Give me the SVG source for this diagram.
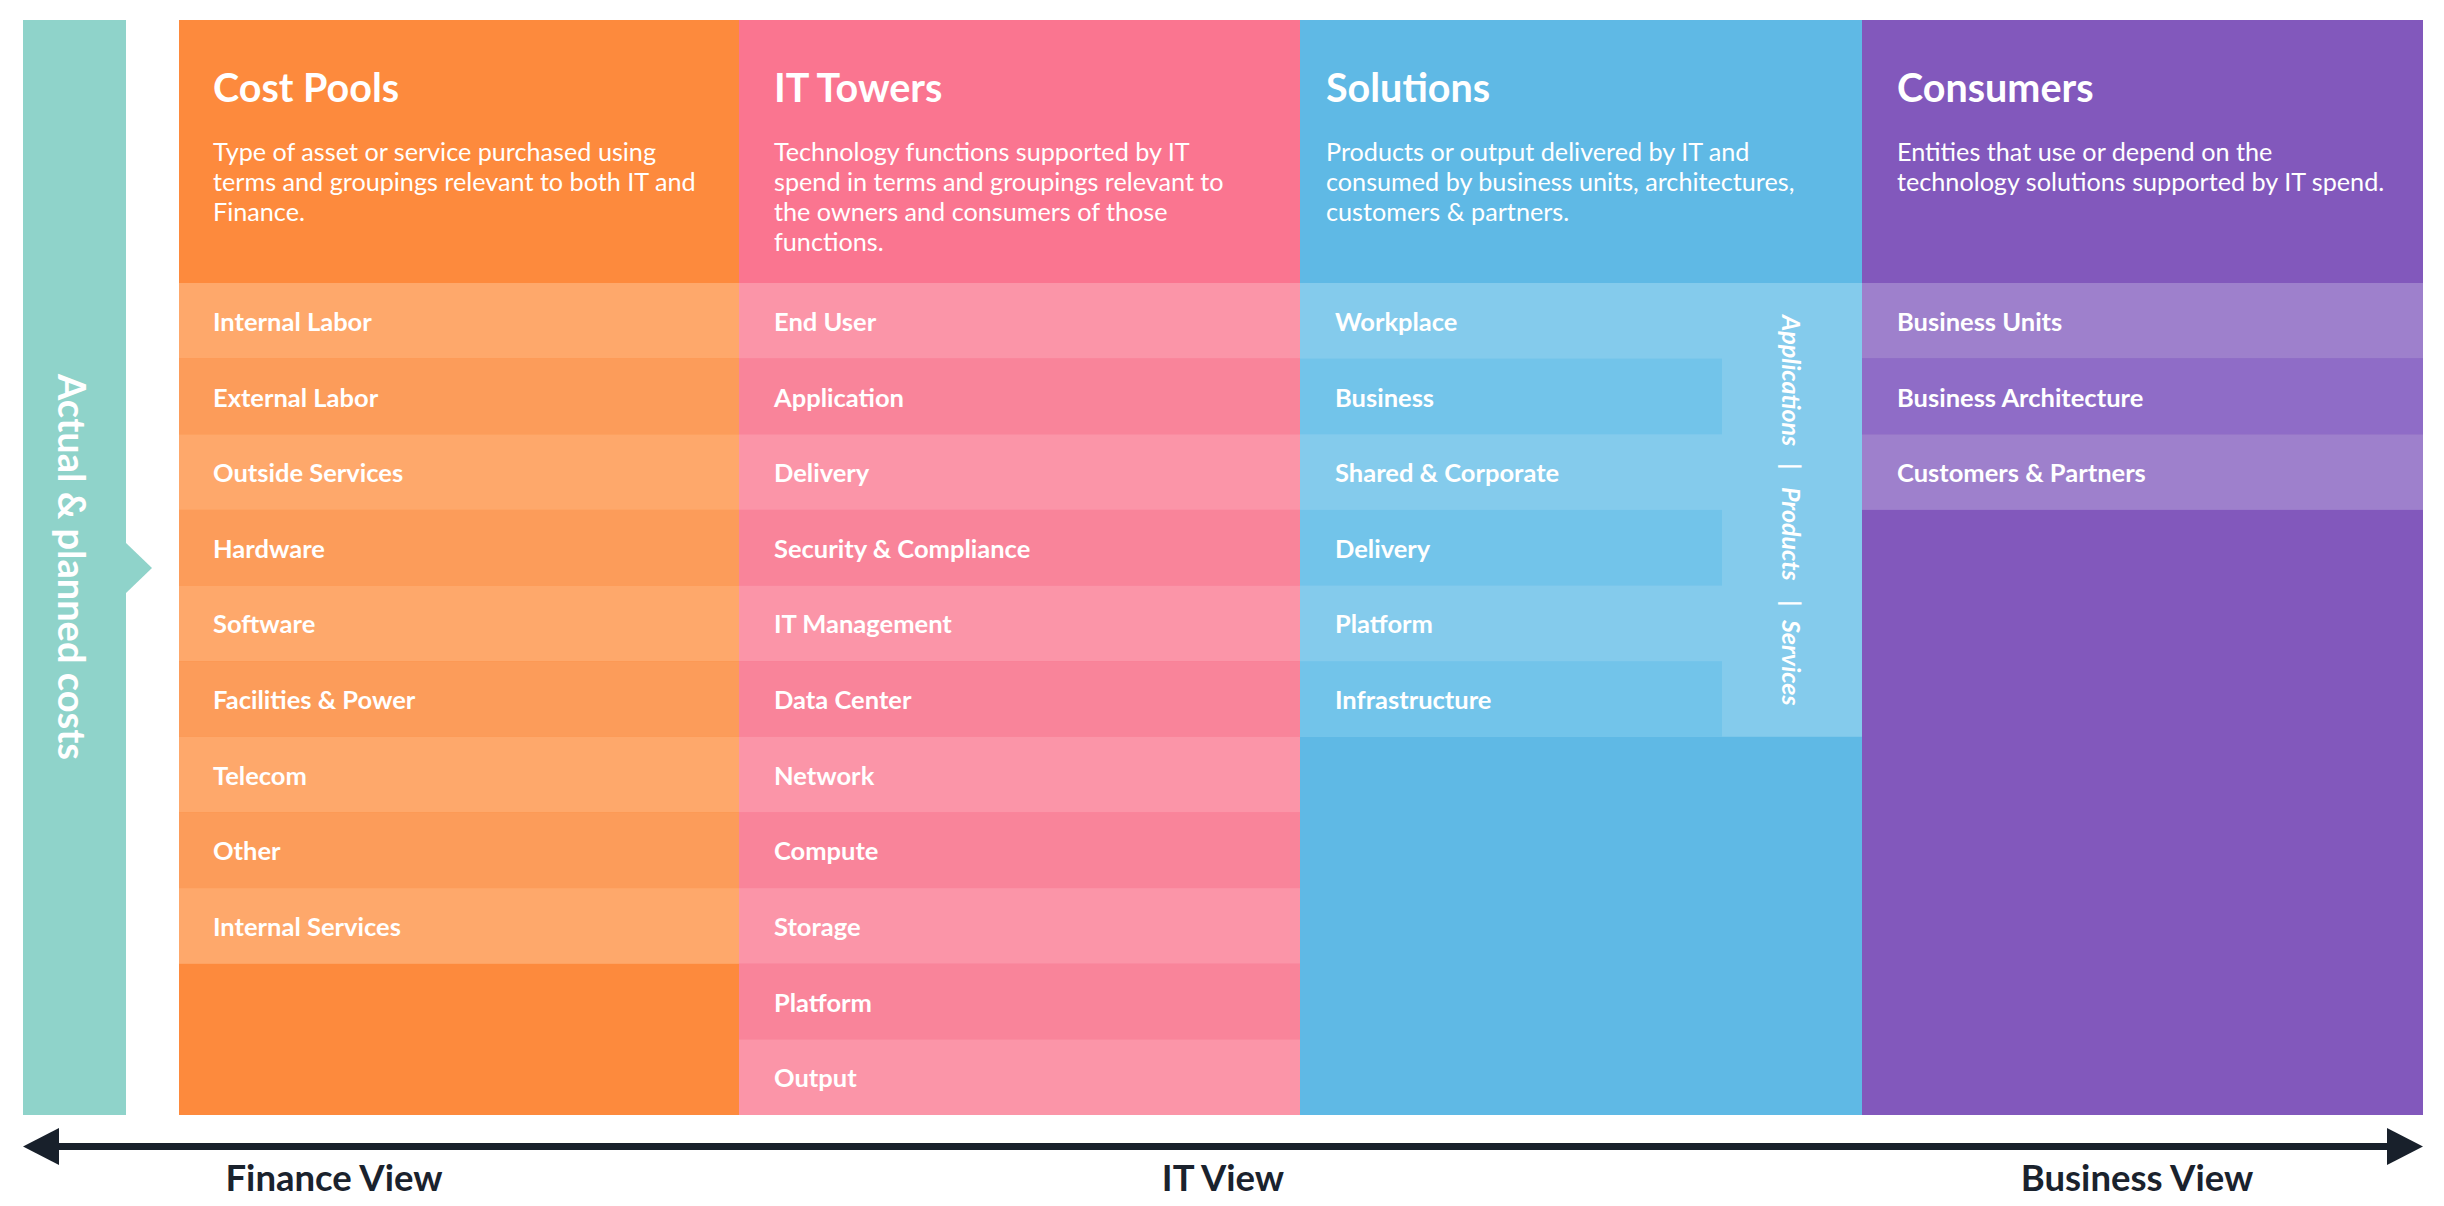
<svg xmlns="http://www.w3.org/2000/svg" width="2444" height="1206" viewBox="0 0 2444 1206">
<defs>
<style>
text{font-family:Lato,"Open Sans","Liberation Sans",sans-serif;fill:#ffffff}
.h{font-size:39.5px;font-weight:700}
.d{font-size:25.2px;font-weight:400}
.r{font-size:25.5px;font-weight:700}
.side{font-size:38px;font-weight:700}
.vt{font-size:25px;font-weight:700;font-style:italic}
.v{font-size:36.5px;font-weight:700;fill:#1a222d;text-anchor:middle}
.o0{fill:#fd8a3d}.o1{fill:#fea86b}.o2{fill:#fc9c5a}
.p0{fill:#fa7590}.p1{fill:#fb95a8}.p2{fill:#f9849a}
.b0{fill:#5fb9e5}.b1{fill:#84cbec}.b2{fill:#72c4ea}
.u0{fill:#8258bc}.u1{fill:#9e80cc}.u2{fill:#8f6cc7}
</style>
</defs>

<g id="side">
<rect x="23" y="20" width="103" height="1095" fill="#8fd3ca"/>
<polygon points="126,543 152,568 126,593" fill="#8fd3ca"/>
<text class="side" transform="translate(58,567) rotate(90)" text-anchor="middle">Actual &amp; planned costs</text>
</g>

<g id="cost-pools">
<rect class="o0" x="179" y="20" width="561" height="1095"/>
<text class="h" x="213" y="102">Cost Pools</text>
<text class="d" x="213" y="161">Type of asset or service purchased using</text>
<text class="d" x="213" y="191">terms and groupings relevant to both IT and</text>
<text class="d" x="213" y="221">Finance.</text>
<g id="cp-rows">
<rect class="o1" x="179" y="283" width="561" height="75.6"/>
<rect class="o2" x="179" y="358.6" width="561" height="75.7"/>
<rect class="o1" x="179" y="434.3" width="561" height="75.6"/>
<rect class="o2" x="179" y="509.9" width="561" height="75.7"/>
<rect class="o1" x="179" y="585.6" width="561" height="75.6"/>
<rect class="o2" x="179" y="661.2" width="561" height="75.6"/>
<rect class="o1" x="179" y="736.8" width="561" height="75.7"/>
<rect class="o2" x="179" y="812.5" width="561" height="75.6"/>
<rect class="o1" x="179" y="888.1" width="561" height="75.7"/>
<text class="r" x="213" y="331">Internal Labor</text>
<text class="r" x="213" y="407">External Labor</text>
<text class="r" x="213" y="482">Outside Services</text>
<text class="r" x="213" y="558">Hardware</text>
<text class="r" x="213" y="633">Software</text>
<text class="r" x="213" y="709">Facilities &amp; Power</text>
<text class="r" x="213" y="785">Telecom</text>
<text class="r" x="213" y="860">Other</text>
<text class="r" x="213" y="936">Internal Services</text>
</g>
</g>

<g id="it-towers">
<rect class="p0" x="739" y="20" width="562" height="1095"/>
<text class="h" x="774" y="102">IT Towers</text>
<text class="d" x="774" y="161">Technology functions supported by IT</text>
<text class="d" x="774" y="191">spend in terms and groupings relevant to</text>
<text class="d" x="774" y="221">the owners and consumers of those</text>
<text class="d" x="774" y="251">functions.</text>
<g id="it-rows">
<rect class="p1" x="739" y="283" width="562" height="75.6"/>
<rect class="p2" x="739" y="358.6" width="562" height="75.7"/>
<rect class="p1" x="739" y="434.3" width="562" height="75.6"/>
<rect class="p2" x="739" y="509.9" width="562" height="75.7"/>
<rect class="p1" x="739" y="585.6" width="562" height="75.6"/>
<rect class="p2" x="739" y="661.2" width="562" height="75.6"/>
<rect class="p1" x="739" y="736.8" width="562" height="75.7"/>
<rect class="p2" x="739" y="812.5" width="562" height="75.6"/>
<rect class="p1" x="739" y="888.1" width="562" height="75.7"/>
<rect class="p2" x="739" y="963.8" width="562" height="75.6"/>
<rect class="p1" x="739" y="1039.4" width="562" height="75.6"/>
<text class="r" x="774" y="331">End User</text>
<text class="r" x="774" y="407">Application</text>
<text class="r" x="774" y="482">Delivery</text>
<text class="r" x="774" y="558">Security &amp; Compliance</text>
<text class="r" x="774" y="633">IT Management</text>
<text class="r" x="774" y="709">Data Center</text>
<text class="r" x="774" y="785">Network</text>
<text class="r" x="774" y="860">Compute</text>
<text class="r" x="774" y="936">Storage</text>
<text class="r" x="774" y="1012">Platform</text>
<text class="r" x="774" y="1087">Output</text>
</g>
</g>

<g id="solutions">
<rect class="b0" x="1300" y="20" width="562" height="1095"/>
<text class="h" x="1326" y="102">Solutions</text>
<text class="d" x="1326" y="161">Products or output delivered by IT and</text>
<text class="d" x="1326" y="191">consumed by business units, architectures,</text>
<text class="d" x="1326" y="221">customers &amp; partners.</text>
<g id="sol-rows">
<rect class="b1" x="1300" y="283" width="562" height="453.8"/>
<rect class="b2" x="1300" y="358.6" width="422" height="75.7"/>
<rect class="b2" x="1300" y="509.9" width="422" height="75.7"/>
<rect class="b2" x="1300" y="661.2" width="422" height="75.6"/>
<text class="r" x="1335" y="331">Workplace</text>
<text class="r" x="1335" y="407">Business</text>
<text class="r" x="1335" y="482">Shared &amp; Corporate</text>
<text class="r" x="1335" y="558">Delivery</text>
<text class="r" x="1335" y="633">Platform</text>
<text class="r" x="1335" y="709">Infrastructure</text>
</g>
<text class="vt" transform="translate(1782,315) rotate(90)"><tspan x="0">Applications</tspan><tspan x="148">|</tspan><tspan x="172">Products</tspan><tspan x="285">|</tspan><tspan x="305">Services</tspan></text>
</g>

<g id="consumers">
<rect class="u0" x="1862" y="20" width="561" height="1095"/>
<text class="h" x="1897" y="102">Consumers</text>
<text class="d" x="1897" y="161">Entities that use or depend on the</text>
<text class="d" x="1897" y="191">technology solutions supported by IT spend.</text>
<g id="con-rows">
<rect class="u1" x="1862" y="283" width="561" height="75.6"/>
<rect class="u2" x="1862" y="358.6" width="561" height="75.7"/>
<rect class="u1" x="1862" y="434.3" width="561" height="75.6"/>
<text class="r" x="1897" y="331">Business Units</text>
<text class="r" x="1897" y="407">Business Architecture</text>
<text class="r" x="1897" y="482">Customers &amp; Partners</text>
</g>
</g>

<g id="connectors">
<line x1="59" y1="1146.5" x2="2387" y2="1146.5" stroke="#18202b" stroke-width="7"/>
<polygon points="23,1146.5 59,1128 59,1165" fill="#18202b"/>
<polygon points="2423,1146.5 2387,1128 2387,1165" fill="#18202b"/>
</g>

<g id="views">
<text class="v" x="334" y="1191">Finance View</text>
<text class="v" x="1223" y="1191">IT View</text>
<text class="v" x="2137" y="1191">Business View</text>
</g>
</svg>
